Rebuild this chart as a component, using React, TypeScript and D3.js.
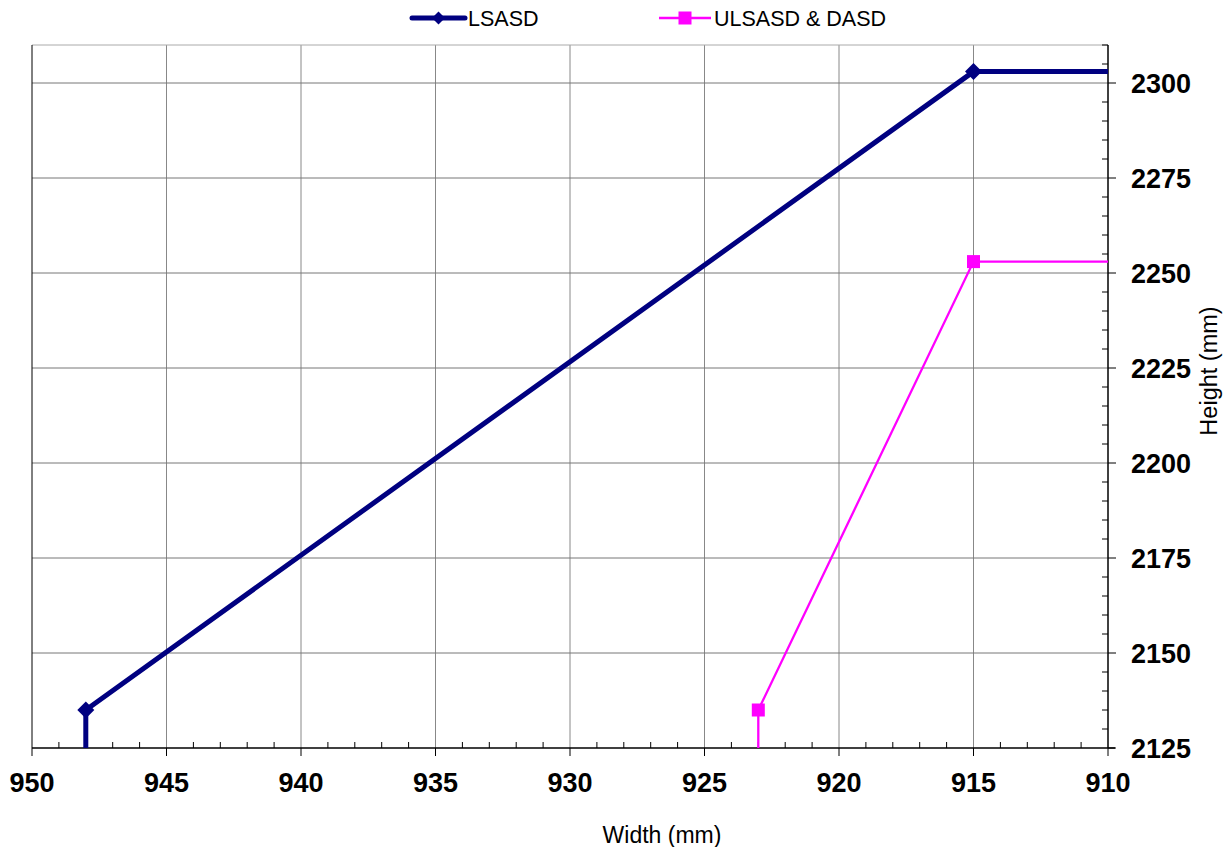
import React from "react";
import * as d3 from "d3";

const lsasdX = [948, 948, 915, 910];
const lsasdY = [2125, 2135, 2303, 2303];
const ulsasdX = [923, 923, 915, 910];
const ulsasdY = [2125, 2135, 2253, 2253];
const xTicks = [950, 945, 940, 935, 930, 925, 920, 915, 910];
const yTicks = [2125, 2150, 2175, 2200, 2225, 2250, 2275, 2300];

const W = 1228, H = 847;
const L = 32, R = 1108, T = 45, B = 748;

export default function App() {
  const x = d3.scaleLinear().domain([950, 910]).range([L, R]);
  const y = d3.scaleLinear().domain([2125, 2310]).range([B, T]);
  const line = d3.line<[number, number]>().x(d => x(d[0])).y(d => y(d[1]));
  const lsPts: [number, number][] = lsasdX.map((v, i) => [v, lsasdY[i]]);
  const ulPts: [number, number][] = ulsasdX.map((v, i) => [v, ulsasdY[i]]);
  const xMinor = d3.range(950, 909, -1).filter(v => v % 5 !== 0);
  const yMinor = d3.range(2125, 2311, 5).filter(v => v % 25 !== 0);
  const font = "Arial, 'Liberation Sans', sans-serif";
  const diamond = (cx: number, cy: number, s: number) =>
    `M${cx},${cy - s}L${cx + s},${cy}L${cx},${cy + s}L${cx - s},${cy}Z`;
  return (
    <svg width={W} height={H} style={{ position: "absolute", left: 0, top: 0 }} fontFamily={font}>
      <rect width={W} height={H} fill="white" />
      {/* gridlines */}
      {xTicks.slice(1, -1).map(v => (
        <line key={"gx" + v} x1={x(v)} x2={x(v)} y1={T} y2={B} stroke="#888" strokeWidth={1} />
      ))}
      {yTicks.slice(1).map(v => (
        <line key={"gy" + v} x1={L} x2={R} y1={y(v)} y2={y(v)} stroke="#777" strokeWidth={1} />
      ))}
      <line x1={L} x2={R} y1={T} y2={T} stroke="#aaa" strokeWidth={1} />
      <line x1={L} x2={L} y1={T} y2={B} stroke="#000" strokeWidth={1} />
      {/* axes */}
      <line x1={L} x2={R + 7} y1={B} y2={B} stroke="#000" strokeWidth={1.5} />
      <line x1={R} x2={R} y1={T} y2={B} stroke="#000" strokeWidth={1.5} />
      {xTicks.map(v => (
        <line key={"xt" + v} x1={x(v)} x2={x(v)} y1={B} y2={B + 8} stroke="#000" strokeWidth={1} />
      ))}
      {xMinor.map(v => (
        <line key={"xm" + v} x1={x(v)} x2={x(v)} y1={B} y2={B - 6} stroke="#000" strokeWidth={1} />
      ))}
      {yTicks.map(v => (
        <line key={"yt" + v} x1={R} x2={R + 8} y1={y(v)} y2={y(v)} stroke="#000" strokeWidth={1} />
      ))}
      {yMinor.map(v => (
        <line key={"ym" + v} x1={R} x2={R - 6} y1={y(v)} y2={y(v)} stroke="#000" strokeWidth={1} />
      ))}
      {xTicks.map(v => (
        <text key={"xl" + v} x={x(v)} y={792} textAnchor="middle" fontSize={27} fontWeight="bold">{v}</text>
      ))}
      {yTicks.map(v => (
        <text key={"yl" + v} x={1131} y={y(v) + 10} textAnchor="start" fontSize={27} fontWeight="bold">{v}</text>
      ))}
      <text x={662} y={843} textAnchor="middle" fontSize={23}>Width (mm)</text>
      <text transform={`translate(1217,371) rotate(-90)`} textAnchor="middle" fontSize={23.5}>Height (mm)</text>
      {/* series */}
      <path d={line(ulPts) || ""} fill="none" stroke="#FF00FF" strokeWidth={2.3} />
      {ulPts.slice(1, 3).map((p, i) => (
        <rect key={"us" + i} x={x(p[0]) - 6.5} y={y(p[1]) - 6.5} width={13} height={13} fill="#FF00FF" />
      ))}
      <path d={line(lsPts) || ""} fill="none" stroke="#000080" strokeWidth={5} />
      {lsPts.slice(1, 3).map((p, i) => (
        <path key={"ld" + i} d={diamond(x(p[0]), y(p[1]), 8.5)} fill="#000080" />
      ))}
      {/* legend */}
      <line x1={412} x2={465} y1={18} y2={18} stroke="#000080" strokeWidth={5} strokeLinecap="round" />
      <path d={diamond(438.5, 18, 6.5)} fill="#000080" />
      <text x={468} y={26} fontSize={21.5}>LSASD</text>
      <line x1={659} x2={711} y1={18} y2={18} stroke="#FF00FF" strokeWidth={2.3} />
      <rect x={678.5} y={11.5} width={13} height={13} fill="#FF00FF" />
      <text x={714} y={26} fontSize={21.5}>ULSASD &amp; DASD</text>
    </svg>
  );
}
